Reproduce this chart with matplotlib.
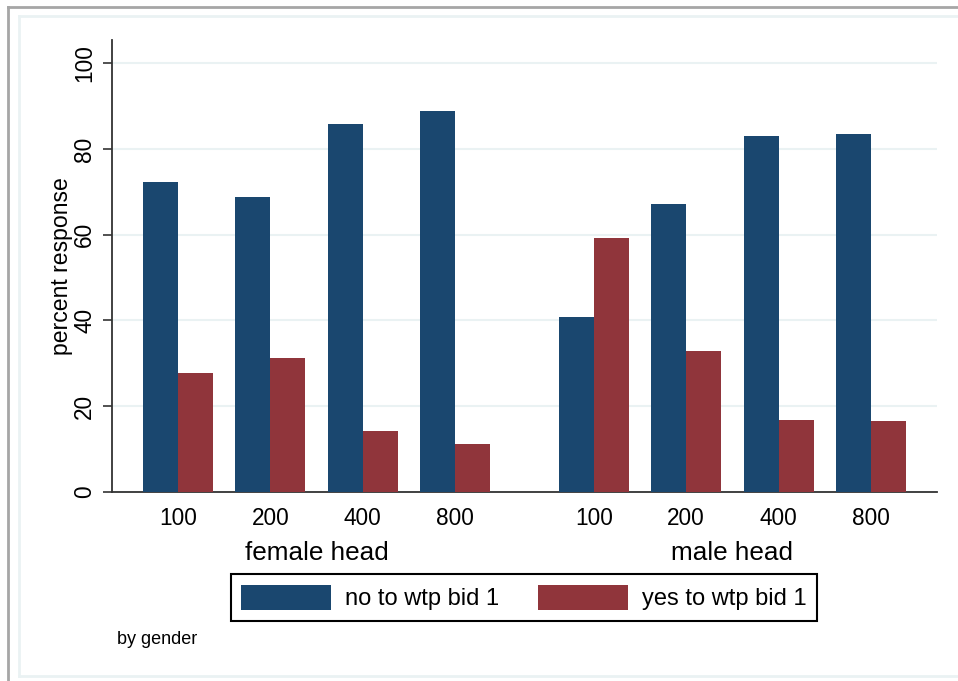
import matplotlib
matplotlib.use("Agg")
import matplotlib.pyplot as plt
from matplotlib.lines import Line2D
from matplotlib.patches import Patch
import numpy as np

plt.rcParams['font.family'] = ['Liberation Sans', 'DejaVu Sans']

bids = ["100", "200", "400", "800"]
groups = ["female head", "male head"]
no_female = [72.2, 68.8, 85.8, 88.8]
yes_female = [27.8, 31.2, 14.2, 11.2]
no_male = [40.7, 67.1, 83.1, 83.4]
yes_male = [59.3, 32.9, 16.9, 16.6]
series_labels = ["no to wtp bid 1", "yes to wtp bid 1"]

BLUE = "#1a476f"
RED = "#90353b"
GRID = "#eaf2f3"

W, H = 958, 681
fig = plt.figure(figsize=(W / 100, H / 100), dpi=100)
fig.patch.set_facecolor("white")

# outer frame lines (figure pixel coordinates)
def fline(x0, y0, x1, y1, color, lw):
    fig.add_artist(Line2D([x0 / W, x1 / W], [1 - y0 / H, 1 - y1 / H],
                          color=color, lw=lw, transform=fig.transFigure))

fline(8, 7, W, 7, "#a6a6a6", 2.0)
fline(8, 7, 8, H, "#a6a6a6", 2.0)
fline(19, 16, W, 16, GRID, 2.0)
fline(19, 16, 19, 676, GRID, 2.0)
fline(19, 676, W, 676, GRID, 2.0)

ax = fig.add_axes([112 / W, 1 - 492 / H, (937 - 112) / W, (492 - 40) / H])

width = 0.38
gap = 4.5
centers = []
for gi, (nos, yess) in enumerate([(no_female, yes_female), (no_male, yes_male)]):
    x = np.arange(len(bids)) + gi * gap
    ax.bar(x - width / 2, nos, width, color=BLUE, edgecolor="none", zorder=3)
    ax.bar(x + width / 2, yess, width, color=RED, edgecolor="none", zorder=3)
    centers.extend(list(x))
    ax.text(x.mean(), -0.135, groups[gi], transform=ax.get_xaxis_transform(),
            ha="center", va="center", fontsize=18.8)

ax.set_xlim(-0.714, 3 + gap + 0.714)
ax.set_ylim(0, 105.4)
ax.set_xticks(centers)
ax.set_xticklabels(bids * 2)
ax.set_yticks([0, 20, 40, 60, 80, 100])
ax.tick_params(axis="x", length=0, pad=11, labelsize=16.3)
ax.tick_params(axis="y", length=6.5, width=1.2, color="#333333", pad=5,
               labelsize=16.3, labelrotation=90)
for lab in ax.get_yticklabels():
    lab.set_va("center")
ax.yaxis.grid(True, color=GRID, lw=1.5, zorder=0)
ax.set_axisbelow(True)
for s in ["top", "right"]:
    ax.spines[s].set_visible(False)
for s in ["left", "bottom"]:
    ax.spines[s].set_color("#333333")
    ax.spines[s].set_linewidth(1.3)

fig.text(62 / W, 1 - 266 / H, "percent response", rotation=90,
         ha="center", va="center", fontsize=16.6)

handles = [Patch(facecolor=BLUE, edgecolor="none"), Patch(facecolor=RED, edgecolor="none")]
leg = fig.legend(handles, series_labels, loc="center", ncol=2,
                 bbox_to_anchor=(524 / W, 1 - 597.5 / H), fontsize=17,
                 handlelength=3.8, handleheight=1.23, handletextpad=0.6,
                 columnspacing=1.65, borderpad=0.45, fancybox=False,
                 framealpha=1, edgecolor="black")
leg.get_frame().set_linewidth(1.5)

fig.text(117 / W, 1 - 640 / H, "by gender", ha="left", va="center", fontsize=13)

fig.savefig("out.png", dpi=100)
